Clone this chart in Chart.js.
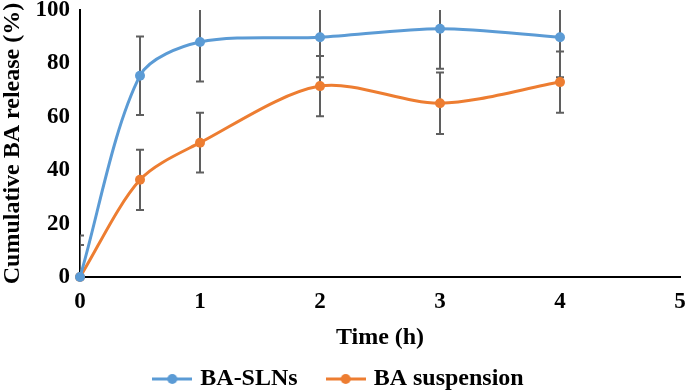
<!DOCTYPE html>
<html>
<head>
<meta charset="utf-8">
<script src="https://cdn.jsdelivr.net/npm/chart.js@4/dist/chart.umd.min.js"></script>
<style>
  html, body { margin: 0; padding: 0; background: #fff; }
</style>
</head>
<body>
<canvas id="myChart" width="685" height="390"></canvas>
<script>
// values
const timeHours = [0, 0.5, 1, 2, 3, 4];
const slnRelease = [0, 75.4, 88, 89.8, 93, 89.8];
const slnError = [15.5, 14.7, 14.8, 15, 15, 15];
const suspRelease = [0, 36.4, 50.3, 71.5, 65.1, 73];
const suspError = [12, 11.3, 11.2, 11.3, 11.5, 11.5];
const xTicks = [0, 1, 2, 3, 4, 5];
const yTicks = [0, 20, 40, 60, 80, 100];

const BLUE = '#5B9BD5';
const ORANGE = '#ED7D31';
const serif = 'Liberation Serif';

function toPoints(xs, ys) {
  return xs.map((x, i) => ({x: x, y: ys[i]}));
}

// little line + dot used as the legend symbol
function legendMark(color) {
  const c = document.createElement('canvas');
  c.width = 40; c.height = 12;
  const g = c.getContext('2d');
  g.strokeStyle = color;
  g.lineWidth = 3;
  g.beginPath(); g.moveTo(0, 6); g.lineTo(40, 6); g.stroke();
  g.fillStyle = color;
  g.beginPath(); g.arc(20, 6, 5, 0, Math.PI * 2); g.fill();
  return c;
}
const marks = [legendMark(BLUE), legendMark(ORANGE)];

const errorBars = {
  id: 'errorBars',
  beforeDatasetsDraw(chart) {
    const ctx = chart.ctx;
    const area = chart.chartArea;
    const xs = chart.scales.x, ys = chart.scales.y;
    ctx.save();
    ctx.beginPath();
    ctx.rect(area.left, area.top, area.right - area.left, area.bottom - area.top);
    ctx.clip();
    ctx.strokeStyle = '#5f5f5f';
    ctx.lineWidth = 2;
    chart.data.datasets.forEach(ds => {
      ds.data.forEach((p, i) => {
        const e = ds.errors[i];
        const px = xs.getPixelForValue(p.x);
        const top = ys.getPixelForValue(p.y + e);
        const bot = ys.getPixelForValue(p.y - e);
        ctx.beginPath();
        ctx.moveTo(px, top); ctx.lineTo(px, bot);
        ctx.moveTo(px - 4, top); ctx.lineTo(px + 4, top);
        ctx.moveTo(px - 4, bot); ctx.lineTo(px + 4, bot);
        ctx.stroke();
      });
    });
    ctx.restore();
  }
};

// fixed legend height so the rows sit where the original has them
const legendSize = {
  id: 'legendSize',
  afterInit(chart) {
    const fit = chart.legend.fit;
    chart.legend.fit = function () {
      fit.call(this);
      this.height = 55;
    };
  }
};

const data = {
  datasets: [
    {
      label: 'BA-SLNs',
      data: toPoints(timeHours, slnRelease),
      errors: slnError,
      borderColor: BLUE,
      backgroundColor: BLUE,
      borderWidth: 3,
      pointRadius: 5,
      pointBorderWidth: 0,
      tension: 0.3,
      clip: false
    },
    {
      label: 'BA suspension',
      data: toPoints(timeHours, suspRelease),
      errors: suspError,
      borderColor: ORANGE,
      backgroundColor: ORANGE,
      borderWidth: 3,
      pointRadius: 5,
      pointBorderWidth: 0,
      tension: 0.3,
      clip: false
    }
  ]
};

const config = {
  type: 'line',
  data: data,
  options: {
    responsive: false,
    animation: false,
    layout: { padding: { top: 10, right: 5, left: 0, bottom: 0 } },
    plugins: {
      legend: {
        position: 'bottom',
        labels: {
          usePointStyle: true,
          pointStyleWidth: 32,
          color: '#000',
          padding: 32,
          font: { family: serif, size: 24, weight: 'bold' },
          generateLabels(chart) {
            const items = Chart.defaults.plugins.legend.labels.generateLabels(chart);
            items.forEach((it, i) => { it.pointStyle = marks[i]; });
            return items;
          }
        }
      },
      tooltip: { enabled: false }
    },
    scales: {
      x: {
        type: 'linear',
        min: 0,
        max: 5,
        afterBuildTicks(scale) { scale.ticks = xTicks.map(v => ({value: v})); },
        afterFit(scale) {
          scale.height = 58;
          scale.paddingLeft = 0;
          scale.paddingRight = 0;
        },
        grid: { display: false, drawTicks: false },
        border: { display: true, color: '#000', width: 2 },
        ticks: { color: '#000', padding: 11, font: { family: serif, size: 23, weight: 'bold' } },
        title: {
          display: true,
          text: 'Time (h)',
          color: '#000',
          padding: { top: 0, bottom: -17 },
          font: { family: serif, size: 24, weight: 'bold' }
        }
      },
      y: {
        min: 0,
        max: 100,
        afterBuildTicks(scale) { scale.ticks = yTicks.map(v => ({value: v})); },
        afterFit(scale) {
          scale.width = 80;
          scale.paddingTop = 0;
          scale.paddingBottom = 0;
        },
        grid: { display: false, drawTicks: false },
        border: { display: true, color: '#000', width: 2 },
        ticks: { color: '#000', padding: 10, font: { family: serif, size: 23, weight: 'bold' } },
        title: {
          display: true,
          text: 'Cumulative BA release (%)',
          color: '#000',
          padding: { top: -2, bottom: 0 },
          font: { family: serif, size: 24, weight: 'bold' }
        }
      }
    }
  },
  plugins: [errorBars, legendSize]
};

new Chart(document.getElementById('myChart'), config);
</script>
</body>
</html>
